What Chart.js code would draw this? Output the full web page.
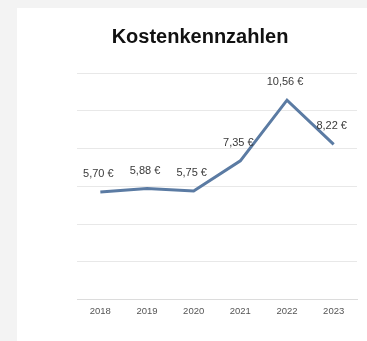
<!DOCTYPE html>
<html>
<head>
<meta charset="utf-8">
<script src="https://cdn.jsdelivr.net/npm/chart.js@4"></script>
<style>
  html, body { margin: 0; padding: 0; background: #f3f3f3; }
  #panel { position: absolute; left: 17px; top: 8px; width: 350px; height: 333px; background: #fff; }
  canvas { display: block; }
</style>
</head>
<body>
<div id="panel"><canvas id="chart" width="350" height="333"></canvas></div>
<script>
const titel = 'Kostenkennzahlen';
const jahre = ['2018', '2019', '2020', '2021', '2022', '2023'];
const kosten = [5.70, 5.88, 5.75, 7.35, 10.56, 8.22];

const schrift = '"Liberation Sans", Arial, sans-serif';
const euro = v => v.toFixed(2).replace('.', ',') + ' €';

// Titel und Werte über den Punkten
const beschriftung = {
    id: 'beschriftung',
    afterDatasetsDraw(chart) {
        const ctx = chart.ctx;
        ctx.save();
        ctx.textAlign = 'center';
        ctx.textBaseline = 'middle';

        ctx.font = 'bold 20px ' + schrift;
        ctx.fillStyle = '#111';
        ctx.fillText(titel, 183, 29);

        ctx.font = '11px ' + schrift;
        ctx.fillStyle = '#3a3a3a';
        chart.getDatasetMeta(0).data.forEach((p, i) => {
            ctx.fillText(euro(kosten[i]), p.x - 2, p.y - 18);
        });
        ctx.restore();
    }
};

new Chart(document.getElementById('chart'), {
    type: 'line',
    data: {
        labels: jahre,
        datasets: [{
            data: kosten,
            borderColor: '#5b7ba3',
            borderWidth: 3,
            pointRadius: 0,
            tension: 0,
            fill: false
        }]
    },
    options: {
        responsive: false,
        animation: false,
        layout: { padding: { left: 60, right: 10, top: 65, bottom: 18 } },
        plugins: {
            legend: { display: false },
            tooltip: { enabled: false },
            title: { display: false }
        },
        scales: {
            x: {
                offset: true,
                grid: { display: false, drawTicks: false },
                border: { display: true, color: '#dcdcdc' },
                ticks: {
                    color: '#555',
                    padding: 6,
                    font: { family: schrift, size: 9.5 }
                }
            },
            y: {
                min: 0,
                max: 12,
                ticks: { stepSize: 2, display: false },
                grid: { color: '#e8e8e8', drawTicks: false },
                border: { display: false }
            }
        }
    },
    plugins: [beschriftung]
});
</script>
</body>
</html>
